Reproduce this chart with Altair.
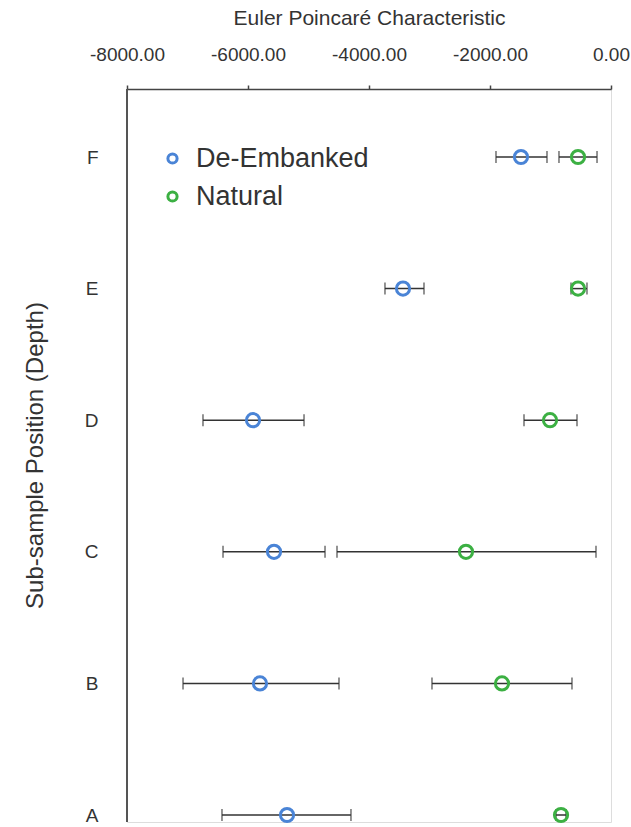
import altair as alt
import pandas as pd

positions = ["F", "E", "D", "C", "B", "A"]
series = ["De-Embanked", "Natural"]

deemb_mean = [-1488, -3438, -5917, -5570, -5802, -5355]
deemb_low = [-1901, -3736, -6744, -6413, -7074, -6430]
deemb_high = [-1058, -3091, -5074, -4727, -4496, -4298]

natural_mean = [-545, -545, -1008, -2397, -1802, -826]
natural_low = [-860, -661, -1438, -4529, -2959, -909]
natural_high = [-231, -397, -562, -248, -645, -744]

x_ticks = [-8000, -6000, -4000, -2000, 0]

rows = []
for i, p in enumerate(positions):
    rows.append({"pos": p, "series": series[0], "mean": deemb_mean[i],
                 "low": deemb_low[i], "high": deemb_high[i]})
    rows.append({"pos": p, "series": series[1], "mean": natural_mean[i],
                 "low": natural_low[i], "high": natural_high[i]})
df = pd.DataFrame(rows)

W, H = 484, 733
FONT = "Liberation Sans"

xscale = alt.Scale(domain=[-8000, 0], nice=False, zero=False)
yscale = alt.Scale(type="point", domain=positions, range=[68, 726], padding=0)

xaxis = alt.Axis(
    orient="top", values=x_ticks, title="Euler Poincaré Characteristic",
    labelExpr="replace(format(datum.value, '.2f'), '\u2212', '-')",
    labelFlush=False, labelOverlap=False,
    grid=False, tickSize=4, tickColor="#444", tickWidth=1.5, domainColor="#444",
    domainWidth=1.5, labelPadding=21, labelFontSize=19, labelColor="#333",
    labelFont=FONT, titleFont=FONT, titleFontSize=21, titleFontWeight="normal",
    titleColor="#333", titleY=-71, titleBaseline="middle",
)
yaxis = alt.Axis(
    title="Sub-sample Position (Depth)", domain=False, ticks=False, grid=False,
    labelPadding=29, labelFontSize=19, labelColor="#333", labelFont=FONT,
    titleFont=FONT, titleFontSize=24, titleFontWeight="normal", titleColor="#333",
    titleAngle=270, titleX=-92, titleY=366, titleAlign="center", titleBaseline="middle",
)

base = alt.Chart(df)

ybar = alt.Chart(df).mark_rule(color="#555", strokeWidth=2).encode(
    x=alt.value(0), y=alt.value(0), y2=alt.value(H)
)

bars = base.mark_rule(color="#333", strokeWidth=1.5).encode(
    x=alt.X("low:Q", scale=xscale, axis=xaxis),
    x2="high:Q",
    y=alt.Y("pos:N", scale=yscale, axis=yaxis, sort=positions),
)
cap_lo = base.mark_tick(color="#333", thickness=1.5, size=12, orient="vertical").encode(
    x=alt.X("low:Q", scale=xscale),
    y=alt.Y("pos:N", scale=yscale, sort=positions),
)
cap_hi = base.mark_tick(color="#333", thickness=1.5, size=12, orient="vertical").encode(
    x=alt.X("high:Q", scale=xscale),
    y=alt.Y("pos:N", scale=yscale, sort=positions),
)
points = base.mark_point(shape="circle", filled=False, size=175, strokeWidth=3, opacity=1).encode(
    x=alt.X("mean:Q", scale=xscale),
    y=alt.Y("pos:N", scale=yscale, sort=positions),
    color=alt.Color(
        "series:N",
        scale=alt.Scale(domain=series, range=["#4a84d6", "#3cb043"]),
        legend=alt.Legend(
            title=None, orient="none", legendX=32, legendY=56,
            symbolType="circle", symbolSize=85, symbolStrokeWidth=3,
            symbolFillColor="white", labelLimit=0,
            labelFontSize=27, labelFont=FONT, labelColor="#333",
            rowPadding=10, labelOffset=10,
        ),
    ),
)

chart = alt.layer(ybar, bars, cap_lo, cap_hi, points).properties(
    width=W, height=H,
    autosize=alt.AutoSizeParams(type="none"),
    padding={"left": 127, "top": 89, "right": 20, "bottom": 5},
).configure_view(stroke=None).configure(background="white")

chart.save("out.html", embed_options={"renderer": "svg", "actions": False})
